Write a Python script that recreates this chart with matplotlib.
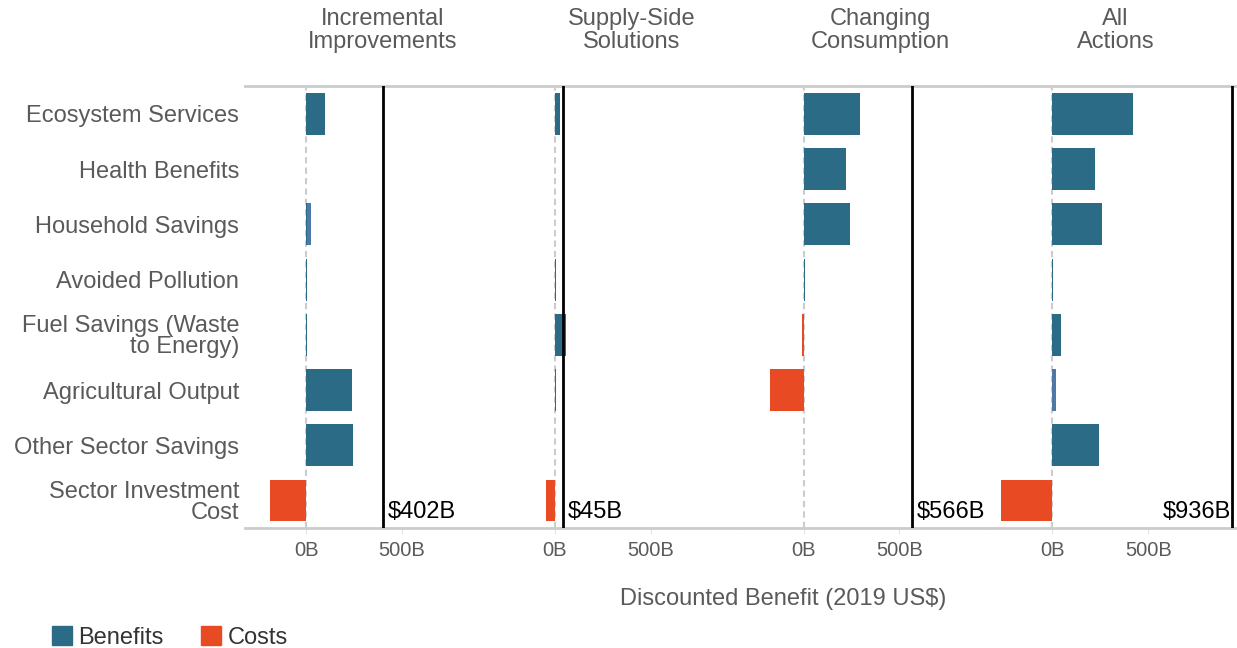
import matplotlib.pyplot as plt
from matplotlib.patches import Patch
from matplotlib.transforms import blended_transform_factory

plt.rcParams['font.family'] = ['Liberation Sans', 'DejaVu Sans']

categories = ["Ecosystem Services", "Health Benefits", "Household Savings",
              "Avoided Pollution", "Fuel Savings (Waste\nto Energy)",
              "Agricultural Output", "Other Sector Savings",
              "Sector Investment\nCost"]
panels = ["Incremental\nImprovements", "Supply-Side\nSolutions",
          "Changing\nConsumption", "All\nActions"]

# benefits (billions), main part and lighter part stacked after it
incr_benefit = [99, 0, 5, 6, 6, 240, 246, 0]
incr_benefit_b = [0, 0, 21, 0, 0, 0, 0, 0]
incr_cost = [0, 0, 0, 0, 0, 0, 0, -188]

supply_benefit = [26, 0, 0, 6, 57, 4, 0, 0]
supply_benefit_b = [0, 0, 0, 0, 0, 0, 0, 0]
supply_cost = [0, 0, 0, 0, 0, 0, 0, -46]

consum_benefit = [293, 220, 241, 6, 0, 0, 0, 4]
consum_benefit_b = [0, 0, 0, 0, 0, 0, 0, 0]
consum_cost = [0, 0, 0, 0, -6, -178, 0, 0]

all_benefit = [420, 223, 260, 5, 45, 0, 245, 0]
all_benefit_b = [0, 0, 0, 0, 0, 18, 0, 0]
all_cost = [0, 0, 0, 0, 0, 0, 0, -269]

totals = [402, 45, 566, 936]

benefits = [incr_benefit, supply_benefit, consum_benefit, all_benefit]
benefits_b = [incr_benefit_b, supply_benefit_b, consum_benefit_b, all_benefit_b]
costs = [incr_cost, supply_cost, consum_cost, all_cost]

teal = "#2c6b85"
light = "#4e79a7"
orange = "#e84a24"
grey_txt = "#5a5a5a"
grey_line = "#cccccc"

fig, axes = plt.subplots(1, 4, figsize=(12.37, 6.48), dpi=100, sharey=True)
fig.subplots_adjust(left=0.198, right=1.0025, bottom=0.185, top=0.867, wspace=0)

y = list(range(len(categories)))
for i, ax in enumerate(axes):
    ax.barh(y, benefits[i], height=0.76, color=teal, zorder=2)
    ax.barh(y, benefits_b[i], left=benefits[i], height=0.76, color=light, zorder=2)
    ax.barh(y, costs[i], height=0.76, color=orange, zorder=2)
    ax.axvline(0, color=grey_line, lw=1.5, ls=(0, (3, 2)), zorder=1)
    ax.axvline(totals[i], color="black", lw=2, zorder=3)
    tr = blended_transform_factory(ax.transData, ax.transAxes)
    if i == 3:
        ax.text(totals[i] - 2, 0.012, f"${totals[i]}B", transform=tr,
                ha="right", va="bottom", fontsize=17, color="black")
    else:
        ax.text(totals[i] + 25, 0.012, f"${totals[i]}B", transform=tr,
                ha="left", va="bottom", fontsize=17, color="black")
    ax.set_xlim(-319, 980)
    ax.set_ylim(len(categories) - 0.5, -0.5)
    ax.set_xticks([0, 500])
    ax.set_xticklabels(["0B", "500B"])
    ax.tick_params(axis="x", colors="#e6e6e6", labelcolor=grey_txt,
                   labelsize=14.5, length=4, pad=5)
    ax.tick_params(axis="y", length=0, labelsize=17, labelcolor=grey_txt,
                   pad=4)
    for s in ["left", "right"]:
        ax.spines[s].set_visible(False)
    for s in ["top", "bottom"]:
        ax.spines[s].set_color(grey_line)
        ax.spines[s].set_linewidth(2)
    ax.text(0.5 if i == 3 else 0.555, 1.126, panels[i], transform=ax.transAxes,
            ha="center", va="center", fontsize=17, color=grey_txt,
            linespacing=1.05)

axes[0].set_yticks(y)
axes[0].set_yticklabels(categories, linespacing=0.95)

fig.text(0.633, 0.075, "Discounted Benefit (2019 US$)", ha="center",
         va="center", fontsize=17, color=grey_txt)

handles = [Patch(color=teal, label="Benefits"), Patch(color=orange, label="Costs")]
fig.legend(handles=handles, loc="lower left", bbox_to_anchor=(0.025, -0.034),
           ncol=2, frameon=False, fontsize=17, handlelength=0.85,
           handleheight=0.85, handletextpad=0.25, columnspacing=1.6,
           labelcolor="#333333")

fig.savefig("out.png", dpi=100)
